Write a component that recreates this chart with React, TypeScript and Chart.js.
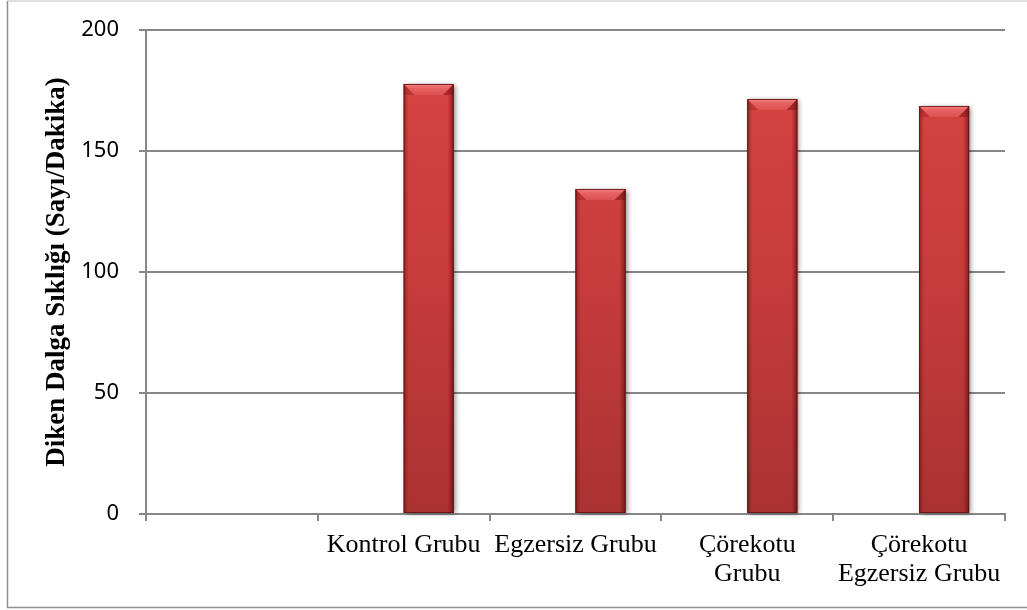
import React, { useEffect, useRef } from 'react';
import { Chart, registerables } from 'chart.js';

Chart.register(...registerables);

// Category labels (first slot intentionally blank)
const categories: (string | string[])[] = [
  '',
  'Kontrol Grubu',
  'Egzersiz Grubu',
  ['Çörekotu', 'Grubu'],
  ['Çörekotu', 'Egzersiz Grubu'],
];

// Unused first series keeps the visible bars on the right half of each slot
const emptySeries: (number | null)[] = [null, null, null, null, null];
// Spike-wave frequency (count / minute)
const spikeFrequency: (number | null)[] = [null, 177.7, 134.3, 171.5, 168.6];

const yTicks: number[] = [0, 50, 100, 150, 200];
const yTitle = 'Diken Dalga Sıklığı (Sayı/Dakika)';

const GRID = '#878787';

type BarBox = { l: number; r: number; t: number; b: number };

function barBoxes(chart: any): BarBox[] {
  const out: BarBox[] = [];
  chart.data.datasets.forEach((ds: any, di: number) => {
    const meta = chart.getDatasetMeta(di);
    meta.data.forEach((el: any, i: number) => {
      if (ds.data[i] == null) return;
      const { x, y, base, width } = el.getProps(['x', 'y', 'base', 'width'], true);
      out.push({ l: x - width / 2, r: x + width / 2, t: y, b: base });
    });
  });
  return out;
}

// Outer frame and white page background
const framePlugin = {
  id: 'frame',
  beforeDraw(chart: any) {
    const { ctx, width } = chart;
    ctx.save();
    ctx.fillStyle = '#ffffff';
    ctx.fillRect(0, 0, chart.width, chart.height);
    ctx.lineWidth = 1.5;
    ctx.strokeStyle = '#d4d4d4';
    ctx.beginPath();
    ctx.moveTo(7.5, 1);
    ctx.lineTo(width, 1);
    ctx.stroke();
    ctx.strokeStyle = '#8f8f8f';
    ctx.beginPath();
    ctx.moveTo(7.5, 1);
    ctx.lineTo(7.5, 607.5);
    ctx.lineTo(width, 607.5);
    ctx.stroke();
    ctx.restore();
  },
};

// Soft drop shadow under bars, bevel highlights on top of them
const bevelPlugin = {
  id: 'bevel',
  beforeDatasetsDraw(chart: any) {
    const ctx = chart.ctx;
    ctx.save();
    ctx.shadowColor = 'rgba(0,0,0,0.45)';
    ctx.shadowBlur = 5;
    ctx.shadowOffsetX = 2;
    ctx.shadowOffsetY = 1;
    ctx.fillStyle = '#8a2424';
    barBoxes(chart).forEach(({ l, r, t, b }) => {
      ctx.fillRect(l, t, r - l, b - t);
    });
    ctx.restore();
  },
  afterDatasetsDraw(chart: any) {
    const ctx = chart.ctx;
    barBoxes(chart).forEach(({ l, r, t, b }) => {
      const w = r - l;
      const bev = Math.min(11, w * 0.22);
      ctx.save();
      // left edge shading
      let g = ctx.createLinearGradient(l, 0, l + 5, 0);
      g.addColorStop(0, 'rgba(90,10,10,0.45)');
      g.addColorStop(1, 'rgba(90,10,10,0)');
      ctx.fillStyle = g;
      ctx.fillRect(l, t, 5, b - t);
      // right edge shading
      g = ctx.createLinearGradient(r - 6, 0, r, 0);
      g.addColorStop(0, 'rgba(80,10,10,0)');
      g.addColorStop(1, 'rgba(80,10,10,0.6)');
      ctx.fillStyle = g;
      ctx.fillRect(r - 6, t, 6, b - t);
      // left and right bevel corner faces
      ctx.beginPath();
      ctx.moveTo(l, t);
      ctx.lineTo(l + bev, t + bev);
      ctx.lineTo(l, t + bev);
      ctx.closePath();
      ctx.fillStyle = 'rgba(150,30,30,0.35)';
      ctx.fill();
      ctx.beginPath();
      ctx.moveTo(r, t);
      ctx.lineTo(r - bev, t + bev);
      ctx.lineTo(r, t + bev);
      ctx.closePath();
      ctx.fillStyle = 'rgba(110,15,15,0.45)';
      ctx.fill();
      // top bevel face
      ctx.beginPath();
      ctx.moveTo(l, t);
      ctx.lineTo(r, t);
      ctx.lineTo(r - bev, t + bev);
      ctx.lineTo(l + bev, t + bev);
      ctx.closePath();
      g = ctx.createLinearGradient(0, t, 0, t + bev);
      g.addColorStop(0, '#f28484');
      g.addColorStop(0.35, '#e86464');
      g.addColorStop(1, '#dc5050');
      ctx.fillStyle = g;
      ctx.fill();
      // outline
      ctx.strokeStyle = 'rgba(100,15,15,0.85)';
      ctx.lineWidth = 1;
      ctx.strokeRect(l + 0.5, t + 0.5, w - 1, b - t - 1);
      ctx.restore();
    });
  },
};

export default function App() {
  const canvasRef = useRef<HTMLCanvasElement | null>(null);

  useEffect(() => {
    const canvas = canvasRef.current;
    if (!canvas) return;

    const bodyFill = (context: any) => {
      const { chart } = context;
      const area = chart.chartArea;
      if (!area) return '#cf4040';
      const g = chart.ctx.createLinearGradient(0, area.top, 0, area.bottom);
      g.addColorStop(0, '#d94444');
      g.addColorStop(0.5, '#c83c3c');
      g.addColorStop(1, '#aa3232');
      return g;
    };

    const chart = new Chart(canvas, {
      type: 'bar',
      data: {
        labels: categories,
        datasets: [
          {
            label: 'Seri 1',
            data: emptySeries,
            backgroundColor: '#4f81bd',
            categoryPercentage: 100 / 171.8,
            barPercentage: 1,
          },
          {
            label: 'Diken Dalga Sıklığı',
            data: spikeFrequency,
            backgroundColor: bodyFill,
            borderWidth: 0,
            categoryPercentage: 100 / 171.8,
            barPercentage: 1,
          },
        ],
      },
      options: {
        responsive: true,
        maintainAspectRatio: false,
        animation: false,
        layout: { padding: { left: 41, top: 30, right: 22, bottom: 0 } },
        plugins: {
          legend: { display: false },
          tooltip: { enabled: false },
        },
        scales: {
          x: {
            offset: true,
            grid: {
              offset: true,
              drawOnChartArea: false,
              drawTicks: true,
              tickLength: 7,
              color: GRID,
              lineWidth: 2,
            },
            border: { color: GRID, width: 2 },
            ticks: {
              color: '#000000',
              font: { family: 'Liberation Serif', size: 26, lineHeight: 1.1 },
              padding: 10,
              maxRotation: 0,
              minRotation: 0,
              autoSkip: false,
            },
            afterFit: (scale: any) => {
              scale.height = 96;
            },
          },
          y: {
            min: 0,
            max: 200,
            afterBuildTicks: (scale: any) => {
              scale.ticks = yTicks.map((v) => ({ value: v }));
            },
            grid: { color: GRID, lineWidth: 2, tickLength: 7 },
            border: { color: GRID, width: 2 },
            ticks: {
              color: '#000000',
              padding: 20,
              font: { family: 'Noto Sans', size: 22 },
            },
            title: {
              display: true,
              text: yTitle,
              color: '#000000',
              padding: 0,
              font: { family: 'Liberation Serif', size: 27, weight: 'bold', lineHeight: 1.2 },
            },
            afterFit: (scale: any) => {
              scale.width = 105;
              scale.paddingTop = 0;
              scale.paddingBottom = 0;
            },
          },
        },
      },
      plugins: [framePlugin, bevelPlugin],
    });

    return () => chart.destroy();
  }, []);

  return (
    <div style={{ position: 'fixed', left: 0, top: 0, width: 1027, height: 610, background: '#fff' }}>
      <canvas ref={canvasRef} />
    </div>
  );
}
